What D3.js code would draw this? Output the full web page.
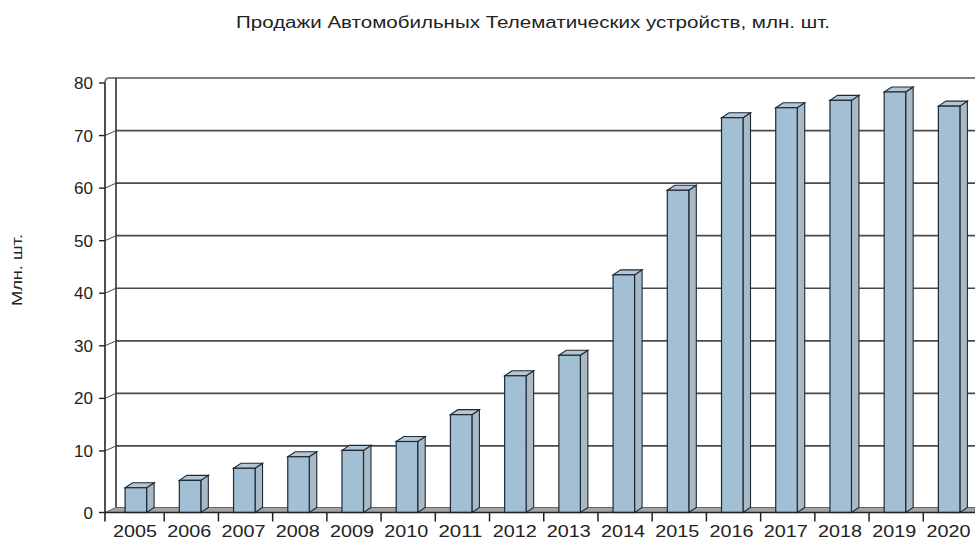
<!DOCTYPE html>
<html>
<head>
<meta charset="utf-8">
<script src="https://cdn.jsdelivr.net/npm/d3@7"></script>
<style>
  html, body { margin: 0; padding: 0; background: #fff; }
  svg { display: block; }
  text { font-family: "Liberation Sans", Arial, sans-serif; fill: #222; }
</style>
</head>
<body>
<svg id="chart" width="975" height="542"></svg>
<script>
const titleText = "Продажи Автомобильных Телематических устройств, млн. шт.";
const yAxisTitle = "Млн. шт.";
const years = ["2005","2006","2007","2008","2009","2010","2011","2012","2013","2014","2015","2016","2017","2018","2019","2020"];
const sales = [3, 4.4, 6.7, 8.9, 10.1, 11.8, 16.9, 24.3, 28.2, 43.5, 59.6, 73.4, 75.3, 76.7, 78.3, 75.6];
const yTicks = [0, 10, 20, 30, 40, 50, 60, 70, 80];

const svg = d3.select("#chart");
const W = 975, H = 542;

// geometry
const axisX = 105;          // front value axis
const floorY = 512.5;       // front floor / category axis
const depth = { dx: 11, dy: -5 };     // back-wall offset
const barDepth = { dx: 7.5, dy: -5 }; // bar depth offset

const x = d3.scaleBand().domain(years).range([110, 977.5]);
const y = d3.scaleLinear().domain([0, 80]).range([503.5, 83]);

// Title
svg.append("text")
  .attr("x", 533).attr("y", 28)
  .attr("text-anchor", "middle")
  .attr("font-size", 16)
  .attr("textLength", 594).attr("lengthAdjust", "spacingAndGlyphs")
  .text(titleText);

// Y axis title
svg.append("text")
  .attr("transform", "translate(22,270) rotate(-90)")
  .attr("text-anchor", "middle")
  .attr("font-size", 14)
  .attr("textLength", 72).attr("lengthAdjust", "spacingAndGlyphs")
  .text(yAxisTitle);

// Back wall gridlines
const grid = svg.append("g");
grid.selectAll("line")
  .data(yTicks.filter(v => v > 0))
  .join("line")
  .attr("x1", axisX + depth.dx).attr("x2", W)
  .attr("y1", d => y(d) + depth.dy).attr("y2", d => y(d) + depth.dy)
  .attr("stroke", d => d === 80 ? "#808080" : "#4a4a4a")
  .attr("stroke-width", d => d === 80 ? 2.2 : 1.7);

// back wall top-left corner
svg.append("path")
  .attr("d", `M${axisX},${y(80)} Q${axisX},${y(80)+depth.dy} ${axisX+4},${y(80)+depth.dy} L${W},${y(80)+depth.dy}`)
  .attr("fill", "none").attr("stroke", "#808080").attr("stroke-width", 2);
svg.append("line")
  .attr("x1", axisX + depth.dx).attr("x2", axisX + depth.dx)
  .attr("y1", y(80) + depth.dy).attr("y2", floorY + depth.dy)
  .attr("stroke", "#333").attr("stroke-width", 1.6);

// Floor
svg.append("path")
  .attr("d", `M${axisX},${floorY} L${axisX+depth.dx},${floorY+depth.dy} L${W},${floorY+depth.dy} L${W},${floorY} Z`)
  .attr("fill", "#a4a4a4").attr("stroke", "#666").attr("stroke-width", 1);

// Bars
const barW = 21.5;
const bars = svg.append("g").selectAll("g")
  .data(years.map((yr, i) => ({ yr, v: sales[i] })))
  .join("g");

bars.each(function(d) {
  const g = d3.select(this);
  const x0 = x(d.yr) + x.bandwidth() / 2 - 12;
  const x1 = x0 + barW;
  const yt = y(d.v);
  const yb = floorY;
  g.append("path")
    .attr("d", `M${x1},${yb} L${x1},${yt} L${x1+barDepth.dx},${yt+barDepth.dy} L${x1+barDepth.dx},${yb+barDepth.dy} Z`)
    .attr("fill", "#a9b9c6").attr("stroke", "#1d2a36").attr("stroke-width", 1.1);
  g.append("path")
    .attr("d", `M${x0},${yt} L${x0+barDepth.dx},${yt+barDepth.dy} L${x1+barDepth.dx},${yt+barDepth.dy} L${x1},${yt} Z`)
    .attr("fill", "#b4c6d4").attr("stroke", "#1d2a36").attr("stroke-width", 1.1);
  g.append("rect")
    .attr("x", x0).attr("y", yt)
    .attr("width", barW).attr("height", yb - yt)
    .attr("fill", "#a3bfd3").attr("stroke", "#1d2a36").attr("stroke-width", 1.2);
});

// Front value axis
svg.append("line")
  .attr("x1", axisX).attr("x2", axisX)
  .attr("y1", y(80)).attr("y2", floorY + 9)
  .attr("stroke", "#222").attr("stroke-width", 1.6);

// Category axis line
svg.append("line")
  .attr("x1", axisX).attr("x2", W)
  .attr("y1", floorY).attr("y2", floorY)
  .attr("stroke", "#222").attr("stroke-width", 1.6);

// Value ticks and labels
const tickY = v => v === 0 ? floorY : y(v);
const yt = svg.append("g");
yt.selectAll("line.tick")
  .data(yTicks)
  .join("line").attr("class", "tick")
  .attr("x1", axisX - 6).attr("x2", axisX)
  .attr("y1", d => tickY(d)).attr("y2", d => tickY(d))
  .attr("stroke", "#222").attr("stroke-width", 1.4);
yt.selectAll("line.diag")
  .data(yTicks.filter(v => v > 0 && v < 80))
  .join("line").attr("class", "diag")
  .attr("x1", axisX).attr("x2", axisX + depth.dx)
  .attr("y1", d => y(d)).attr("y2", d => y(d) + depth.dy)
  .attr("stroke", "#444").attr("stroke-width", 1);
yt.selectAll("text")
  .data(yTicks)
  .join("text")
  .attr("x", 93)
  .attr("y", d => tickY(d) + 6)
  .attr("text-anchor", "end")
  .attr("font-size", 17)
  .text(d => d);

// Category ticks
const xt = svg.append("g");
xt.selectAll("line")
  .data(years.slice(1))
  .join("line")
  .attr("x1", d => x(d)).attr("x2", d => x(d))
  .attr("y1", floorY).attr("y2", floorY + 9)
  .attr("stroke", "#222").attr("stroke-width", 1.5);
xt.selectAll("text")
  .data(years)
  .join("text")
  .attr("x", d => x(d) + x.bandwidth() / 2 - 2)
  .attr("y", 537)
  .attr("text-anchor", "middle")
  .attr("font-size", 17)
  .attr("textLength", 44).attr("lengthAdjust", "spacingAndGlyphs")
  .text(d => d);
</script>
</body>
</html>
